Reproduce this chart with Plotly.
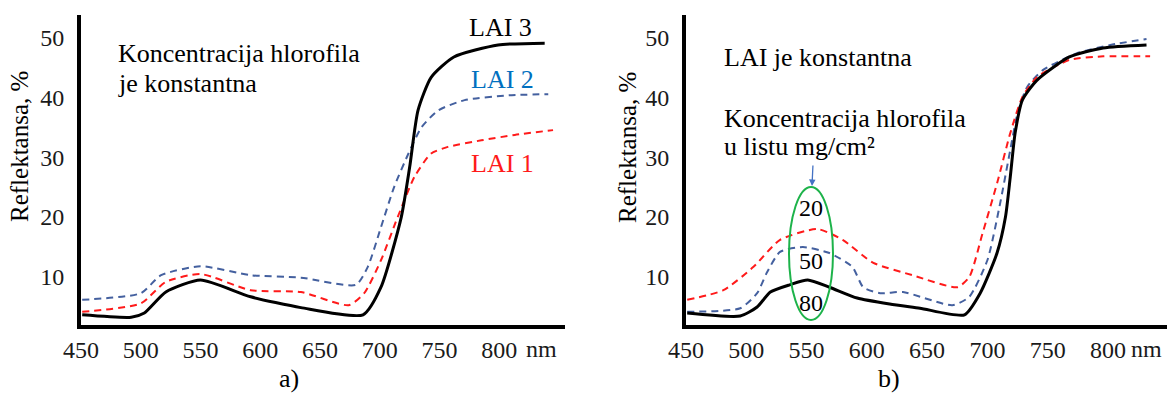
import plotly.graph_objects as go

# ---------------- data ----------------
# Panel a) - chlorophyll concentration constant, LAI varies
a_lai3_nm = [451, 492, 503, 521, 550, 592, 634, 686, 701, 718, 725, 732, 743, 762, 799, 838]
a_lai3_r  = [3.7, 3.3, 4.0, 7.5, 9.5, 6.7, 4.9, 3.7, 8.3, 20.0, 28.3, 37.8, 43.3, 46.7, 48.7, 49.0]
a_lai2_nm = [451, 500, 517, 550, 592, 634, 680, 690, 701, 712, 724, 735, 749, 771, 808, 841]
a_lai2_r  = [6.2, 7.3, 10.3, 11.8, 10.3, 9.9, 8.7, 11.7, 18.3, 25.0, 30.6, 35.0, 37.8, 39.5, 40.3, 40.5]
a_lai1_nm = [451, 500, 521, 550, 592, 634, 674, 687, 701, 715, 729, 743, 757, 785, 813, 845]
a_lai1_r  = [4.2, 5.6, 9.2, 10.5, 7.8, 7.5, 5.3, 7.3, 12.8, 20.0, 26.7, 30.6, 31.7, 32.8, 33.7, 34.5]

# Panel b) - LAI constant, chlorophyll concentration varies (mg/cm2)
b_c80_nm = [451, 495, 509, 520, 536, 551, 569, 592, 619, 644, 681, 694, 708, 715, 719, 723, 729, 741, 768, 796, 832]
b_c80_r  = [4.0, 3.5, 5.0, 7.5, 8.7, 9.5, 8.3, 6.5, 5.5, 4.8, 3.7, 7.3, 14.0, 20.0, 26.7, 34.0, 39.5, 42.8, 46.7, 48.2, 48.7]
b_c50_nm = [451, 495, 509, 517, 528, 547, 569, 588, 597, 611, 630, 671, 685, 700, 710, 719, 725, 733, 746, 774, 802, 832]
b_c50_r  = [4.2, 4.8, 7.3, 10.7, 14.2, 15.0, 14.0, 11.7, 8.3, 7.3, 7.5, 5.3, 6.7, 12.8, 21.7, 31.2, 37.3, 41.7, 44.5, 47.3, 48.7, 49.7]
b_c20_nm = [451, 481, 506, 528, 559, 580, 605, 638, 675, 685, 696, 708, 719, 729, 741, 768, 796, 835]
b_c20_r  = [6.2, 7.8, 11.7, 16.2, 18.0, 16.2, 12.4, 10.3, 8.3, 10.0, 17.3, 25.6, 34.0, 40.0, 43.3, 46.2, 46.8, 46.8]

x_tick_vals = [450, 500, 550, 600, 650, 700, 750, 800]
x_tick_text = ["450", "500", "550", "600", "650", "700", "750", "800"]
x_unit = "nm"
y_tick_vals = [10, 20, 30, 40, 50]
y_tick_text = ["10", "20", "30", "40", "50"]

# ---------------- styling ----------------
FONT = "Liberation Serif"
BLACK = "#000000"
BLUE_LINE = "#44609f"
RED_LINE = "#ff1a1a"
BLUE_TEXT = "#0070c0"
GREEN = "#1db34a"

W, H = 1168, 394
def px_x(p):
    return p / W
def px_y(p):
    return 1 - p / H

fig = go.Figure()

def add_line(x, y, color, dash, width, xa, ya):
    fig.add_trace(go.Scatter(
        x=x, y=y, mode="lines", xaxis=xa, yaxis=ya,
        line=dict(color=color, dash=dash, width=width, shape="spline", smoothing=0.6),
        showlegend=False, hoverinfo="skip"))

dash = "7px,5px"
add_line(a_lai2_nm, a_lai2_r, BLUE_LINE, dash, 2, "x", "y")
add_line(a_lai1_nm, a_lai1_r, RED_LINE, dash, 2, "x", "y")
add_line(a_lai3_nm, a_lai3_r, BLACK, "solid", 3, "x", "y")

add_line(b_c50_nm, b_c50_r, BLUE_LINE, dash, 2, "x2", "y2")
add_line(b_c20_nm, b_c20_r, RED_LINE, dash, 2, "x2", "y2")
add_line(b_c80_nm, b_c80_r, BLACK, "solid", 3, "x2", "y2")

ydom = [px_y(325), px_y(15)]
axis_common = dict(showgrid=False, zeroline=False, showline=True, linecolor=BLACK,
                   linewidth=4, ticks="", automargin=False,
                   tickfont=dict(family=FONT, size=24, color="#1a1a1a"))

fig.update_layout(
    template="none",
    width=W, height=H,
    margin=dict(l=0, r=0, t=0, b=0, pad=0),
    paper_bgcolor="white", plot_bgcolor="white",
    xaxis=dict(domain=[px_x(81), px_x(565)], range=[450, 855], anchor="y",
               tickvals=x_tick_vals, ticktext=x_tick_text, **axis_common),
    yaxis=dict(domain=ydom, range=[2, 53.7], anchor="x",
               tickvals=y_tick_vals, ticktext=y_tick_text, ticklabelstandoff=8, **axis_common),
    xaxis2=dict(domain=[px_x(686), px_x(1167)], range=[450, 849], anchor="y2",
                tickvals=x_tick_vals, ticktext=x_tick_text, **axis_common),
    yaxis2=dict(domain=ydom, range=[2, 53.7], anchor="x2",
                tickvals=y_tick_vals, ticktext=y_tick_text, ticklabelstandoff=8, **axis_common),
)

def note(text, x, y, size=26, color=BLACK, xanchor="left", angle=0, xref="paper", yref="paper"):
    fig.add_annotation(text=text, x=x, y=y, xref=xref, yref=yref, showarrow=False,
                       xanchor=xanchor, yanchor="middle", textangle=angle,
                       font=dict(family=FONT, size=size, color=color), align="left")

# axis titles
note("Reflektansa, %", px_x(20), px_y(147), size=25, xanchor="center", angle=-90)
note("Reflektansa, %", px_x(627), px_y(148), size=25, xanchor="center", angle=-90)

# unit labels after the last tick
note(x_unit, px_x(524), px_y(349), size=24, color="#1a1a1a")
note(x_unit, px_x(1129), px_y(349), size=24, color="#1a1a1a")

# panel a) texts
note("Koncentracija hlorofila", px_x(116), px_y(53))
note("je konstantna", px_x(116), px_y(83))
note("LAI 3", px_x(467), px_y(27), color=BLACK)
note("LAI 2", px_x(469), px_y(80), color=BLUE_TEXT)
note("LAI 1", px_x(469), px_y(163), color=RED_LINE)
note("a)", px_x(289), px_y(378), size=26, xanchor="center")

# panel b) texts
note("LAI je konstantna", px_x(722), px_y(57))
note("Koncentracija hlorofila", px_x(722), px_y(118))
note("u listu mg/cm²", px_x(722), px_y(147))
note("b)", px_x(889), px_y(378), size=26, xanchor="center")
note("20", px_x(811), px_y(208), size=24, xanchor="center")
note("50", px_x(811), px_y(261), size=24, xanchor="center")
note("80", px_x(811), px_y(303), size=24, xanchor="center")

# arrow pointing to the ellipse
fig.add_annotation(x=px_x(812), y=px_y(186), ax=1, ay=-22,
                   xref="paper", yref="paper", axref="pixel", ayref="pixel",
                   showarrow=True, arrowhead=2, arrowsize=1, arrowwidth=1.3,
                   arrowcolor="#4472c4", text="")

# green ellipse
fig.add_shape(type="circle", xref="paper", yref="paper",
              x0=px_x(789), x1=px_x(833), y0=px_y(320), y1=px_y(187),
              line=dict(color=GREEN, width=2))

fig.write_html("out.html", config={"displayModeBar": False},
               post_script="document.body.style.margin='0';")
